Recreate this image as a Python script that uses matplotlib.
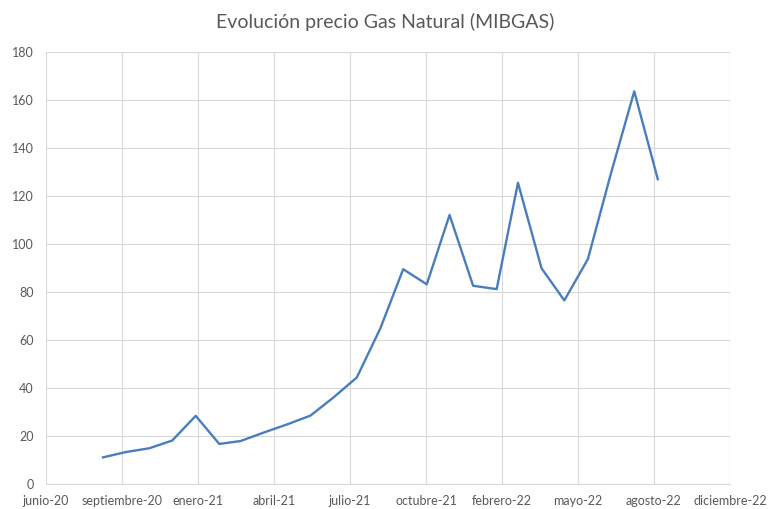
import matplotlib
matplotlib.use("Agg")
import matplotlib.pyplot as plt
import pandas as pd

# month-end MIBGAS prices (EUR/MWh), Aug-2020 .. Aug-2022
dates = pd.date_range("2020-08-31", periods=25, freq="ME")
precio = [11.1, 13.3, 14.9, 18.1, 28.4, 16.7, 17.9, 21.5, 24.8, 28.5,
          36.0, 44.4, 64.9, 89.5, 83.2, 112.1, 82.6, 81.2, 125.5, 89.9,
          76.5, 93.7, 129.0, 163.6, 127.0]

# excel date axis: 100-day major unit
axis_start = pd.Timestamp("2020-06-17")
tick_dates = [axis_start + pd.Timedelta(days=100 * k) for k in range(10)]
meses = ["enero", "febrero", "marzo", "abril", "mayo", "junio", "julio",
         "agosto", "septiembre", "octubre", "noviembre", "diciembre"]
y_ticks = list(range(0, 181, 20))

plt.rcParams['font.family'] = ['Lato', 'DejaVu Sans']

fig = plt.figure(figsize=(7.7, 5.09), dpi=100)
ax = fig.add_axes([46 / 770, 25 / 509, 684 / 770, 432 / 509])

ax.plot(dates, precio, color='#4a7ebb', linewidth=1.7, solid_joinstyle='round')

ax.set_xlim(tick_dates[0], tick_dates[-1])
ax.set_ylim(0, 180)
ax.set_xticks(tick_dates)
ax.set_xticklabels([f"{meses[d.month - 1]}-{d.year % 100:02d}" for d in tick_dates])
ax.set_yticks(y_ticks)

ax.grid(True, color='#d9d9d9', linewidth=0.8)
ax.set_axisbelow(True)
for s in ['top', 'right', 'left']:
    ax.spines[s].set_visible(False)
ax.spines['bottom'].set_color('#d9d9d9')
ax.spines['bottom'].set_linewidth(0.8)
ax.tick_params(length=0, labelsize=9, colors='#595959')
ax.tick_params(axis='y', pad=9)
ax.tick_params(axis='x', pad=8)

fig.suptitle('Evolución precio Gas Natural (MIBGAS)', fontsize=14, color='#595959', y=0.975)

fig.savefig("out.png", dpi=100)
